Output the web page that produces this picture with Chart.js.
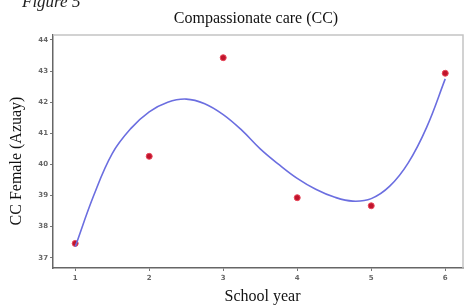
<!DOCTYPE html>
<html>
<head>
<meta charset="utf-8">
<script src="https://cdn.jsdelivr.net/npm/chart.js"></script>
<style>
  body { margin: 0; background: #fff; }
  #wrap { position: relative; width: 468px; height: 305px; overflow: hidden; }
  #fig { position: absolute; left: 22px; top: -8px; font: italic 17px "Liberation Serif", serif; color: #222; }
</style>
</head>
<body>
<div id="wrap">
  <canvas id="chart" width="468" height="305"></canvas>
  <div id="fig">Figure 5</div>
</div>
<script>
// Observed means per school year
const schoolYears = [1, 2, 3, 4, 5, 6];
const ccFemale = [37.46, 40.26, 43.43, 38.93, 38.67, 42.93];

// Fitted curve
const fitX = [1, 1.25, 1.5, 1.75, 2, 2.25, 2.5, 2.75, 3, 3.25, 3.5, 3.75, 4, 4.25, 4.5, 4.75, 5, 5.25, 5.5, 5.75, 6];
const fitY = [37.35, 39.0, 40.35, 41.15, 41.69, 42.0, 42.1, 41.95, 41.6, 41.1, 40.5, 40.0, 39.55, 39.2, 38.95, 38.82, 38.9, 39.3, 40.05, 41.2, 42.75];

const xTicks = [1, 2, 3, 4, 5, 6];
const yTicks = [37, 38, 39, 40, 41, 42, 43, 44];

const titleText = 'Compassionate care (CC)';
const xTitle = 'School year';
const yTitle = 'CC Female (Azuay)';

const serif = '"Liberation Serif", "DejaVu Serif", serif';

// light frame on top/right + the three titles (placed like the original)
const decor = {
  id: 'decor',
  beforeDatasetsDraw(chart) {
    const { ctx, chartArea: a } = chart;
    ctx.save();
    ctx.strokeStyle = '#c4c4c4';
    ctx.lineWidth = 1.5;
    ctx.beginPath();
    ctx.moveTo(a.left, a.top);
    ctx.lineTo(a.right, a.top);
    ctx.lineTo(a.right, a.bottom);
    ctx.stroke();
    ctx.restore();
  },
  afterDraw(chart) {
    const { ctx, chartArea: a } = chart;
    const cx = (a.left + a.right) / 2;
    ctx.save();
    ctx.fillStyle = '#111';
    ctx.textAlign = 'center';
    ctx.textBaseline = 'alphabetic';
    ctx.font = '16px ' + serif;
    ctx.fillText(titleText, cx - 2, a.top - 12.5);
    ctx.fillText(xTitle, cx + 4.5, chart.height - 4);
    ctx.translate(a.left - 36, (a.top + a.bottom) / 2 + 9.5);
    ctx.rotate(-Math.PI / 2);
    ctx.font = '16px ' + serif;
    ctx.textBaseline = 'middle';
    ctx.fillText(yTitle, 0, 0);
    ctx.restore();
  }
};

new Chart(document.getElementById('chart'), {
  type: 'scatter',
  data: {
    datasets: [
      {
        type: 'line',
        data: fitX.map((x, i) => ({ x, y: fitY[i] })),
        borderColor: '#6b6ee0',
        borderWidth: 1.6,
        pointRadius: 0,
        tension: 0.4,
        fill: false
      },
      {
        data: schoolYears.map((x, i) => ({ x, y: ccFemale[i] })),
        backgroundColor: '#c0142c',
        borderColor: '#e8485a',
        borderWidth: 1,
        pointRadius: 3
      }
    ]
  },
  options: {
    responsive: false,
    animation: false,
    layout: { padding: { top: 35, right: 1, left: 0 } },
    plugins: {
      legend: { display: false },
      tooltip: { enabled: false }
    },
    scales: {
      x: {
        type: 'linear',
        min: 0.7,
        max: 6.24,
        afterBuildTicks: axis => { axis.ticks = xTicks.map(v => ({ value: v })); },
        afterFit: axis => { axis.height = 37; },
        grid: { drawOnChartArea: false, drawTicks: true, tickLength: 3, color: '#777' },
        border: { color: '#666', width: 1.5 },
        ticks: { color: '#666', font: { family: 'DejaVu Sans', size: 7, weight: 'bold' }, padding: 3 }
      },
      y: {
        min: 36.67,
        max: 44.16,
        afterBuildTicks: axis => { axis.ticks = yTicks.map(v => ({ value: v })); },
        afterFit: axis => { axis.width = 53; },
        grid: { drawOnChartArea: false, drawTicks: true, tickLength: 3, color: '#777' },
        border: { color: '#666', width: 1.5 },
        ticks: { color: '#666', font: { family: 'DejaVu Sans', size: 7, weight: 'bold' }, padding: 2 }
      }
    }
  },
  plugins: [decor]
});
</script>
</body>
</html>
